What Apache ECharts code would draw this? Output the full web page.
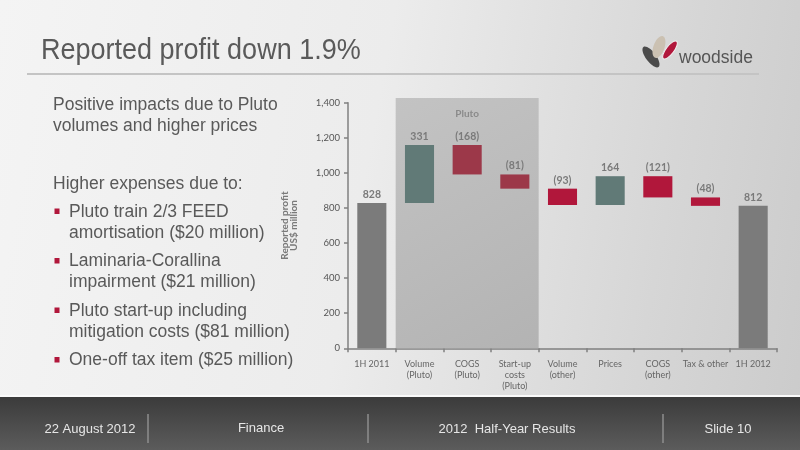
<!DOCTYPE html>
<html>
<head>
<meta charset="utf-8">
<script src="https://cdn.jsdelivr.net/npm/echarts@6/dist/echarts.min.js"></script>
<style>
  html, body { margin: 0; padding: 0; }
  #slide {
    width: 800px; height: 450px;
    background: linear-gradient(100deg, #f4f4f4 0%, #ececec 45%, #d6d6d6 80%, #cbcbcb 100%);
  }
</style>
</head>
<body>
<div id="slide"></div>
<script>
// waterfall data (US$ million)
const categories = ['1H 2011', 'Volume\n(Pluto)', 'COGS\n(Pluto)', 'Start-up\ncosts\n(Pluto)',
  'Volume\n(other)', 'Prices', 'COGS\n(other)', 'Tax & other', '1H 2012'];
const changes = [828, 331, -168, -81, -93, 164, -121, -48, 812];
const kinds = ['total', 'up', 'down', 'down', 'down', 'up', 'down', 'down', 'total'];
const yTicks = [0, 200, 400, 600, 800, 1000, 1200, 1400];
// shaded Pluto group: first category, last category, top of the shading (value)
const plutoGroup = [1, 3, 1427];

const introLines = ['Positive impacts due to Pluto', 'volumes and higher prices'];
const bulletHead = 'Higher expenses due to:';
const bullets = [
  ['Pluto train 2/3 FEED', 'amortisation ($20 million)'],
  ['Laminaria-Corallina', 'impairment ($21 million)'],
  ['Pluto start-up including', 'mitigation costs ($81 million)'],
  ['One-off tax item ($25 million)']
];
const footer = ['22 August 2012', 'Finance', '2012  Half-Year Results', 'Slide 10'];

const colors = {
  total: '#7b7b7b',
  up: '#617a77',
  downPluto: '#9c3849',
  down: '#b1173b',
  text: '#595959'
};

// stack: invisible base + visible step
const base = [];
const steps = [];
let running = 0;
changes.forEach((v, i) => {
  const k = kinds[i];
  let color;
  if (k === 'total') {
    base.push(0);
    steps.push(v);
    running = v;
    color = colors.total;
  } else if (k === 'up') {
    base.push(running);
    steps.push(v);
    running += v;
    color = colors.up;
  } else {
    running += v;
    base.push(running);
    steps.push(-v);
    const inPluto = i >= plutoGroup[0] && i <= plutoGroup[1];
    color = inPluto ? colors.downPluto : colors.down;
  }
  steps[i] = { value: steps[i], itemStyle: { color: color }, raw: v };
});

const chart = echarts.init(document.getElementById('slide'));

const graphic = [];
// title + rule
graphic.push({
  type: 'text', x: 41, y: 51, scaleX: 0.9,
  style: { text: 'Reported profit down 1.9%', font: '30px "Liberation Sans"', fill: '#5a5a5a',
    textAlign: 'left', textVerticalAlign: 'middle' }
});
graphic.push({
  type: 'line', shape: { x1: 27, y1: 74, x2: 759, y2: 74 },
  style: { stroke: '#c4c4c4', lineWidth: 2 }
});
// logo
graphic.push({ type: 'ellipse', x: 651, y: 57, rotation: 0.65, shape: { cx: 0, cy: 0, rx: 5, ry: 12.5 },
  style: { fill: '#4b4b4b' } });
graphic.push({ type: 'ellipse', x: 659, y: 47, rotation: -0.35, shape: { cx: 0, cy: 0, rx: 5.5, ry: 11.5 },
  style: { fill: '#cbc1b2' } });
graphic.push({ type: 'ellipse', x: 670, y: 50, rotation: -0.65, shape: { cx: 0, cy: 0, rx: 4, ry: 11 },
  style: { fill: '#b1173b', stroke: '#f0f0f0', lineWidth: 1 } });
graphic.push({
  type: 'text', x: 679, y: 58,
  style: { text: 'woodside', font: '17.5px "Liberation Sans"', fill: '#555555', textVerticalAlign: 'middle' }
});

// left column text
const bodyFont = '17.5px "Liberation Sans"';
introLines.forEach((t, i) => {
  graphic.push({ type: 'text', x: 53, y: 105 + i * 21,
    style: { text: t, font: bodyFont, fill: colors.text, textVerticalAlign: 'middle' } });
});
graphic.push({ type: 'text', x: 53, y: 184,
  style: { text: bulletHead, font: bodyFont, fill: colors.text, textVerticalAlign: 'middle' } });
let by = 212;
bullets.forEach((lines) => {
  graphic.push({ type: 'rect', shape: { x: 54.5, y: by - 3.5, width: 5, height: 5.5 },
    style: { fill: '#b1173b' } });
  lines.forEach((t, j) => {
    graphic.push({ type: 'text', x: 69, y: by + j * 21,
      style: { text: t, font: bodyFont, fill: colors.text, textVerticalAlign: 'middle' } });
  });
  by += lines.length * 21 + 7.5;
});

// footer bar
graphic.push({ type: 'rect', shape: { x: 0, y: 395, width: 800, height: 2 }, style: { fill: '#fafafa' } });
graphic.push({
  type: 'rect', shape: { x: 0, y: 397, width: 800, height: 53 },
  style: { fill: { type: 'linear', x: 0, y: 0, x2: 0, y2: 1,
    colorStops: [{ offset: 0, color: '#3b3b3b' }, { offset: 1, color: '#5c5c5c' }] } }
});
[148, 368, 663].forEach((x) => {
  graphic.push({ type: 'line', shape: { x1: x, y1: 414, x2: x, y2: 443 },
    style: { stroke: '#8e8e8e', lineWidth: 1.5 } });
});
const footerX = [90, 261, 507, 728];
const footerY = [429, 428, 429, 429];
footer.forEach((t, i) => {
  graphic.push({ type: 'text', x: footerX[i], y: footerY[i],
    style: { text: t, font: '13px "Liberation Sans"', fill: '#e6e6e6',
      textAlign: 'center', textVerticalAlign: 'middle' } });
});

const option = {
  animation: false,
  textStyle: { fontFamily: 'Lato' },
  graphic: graphic,
  grid: { left: 348, right: 23, top: 102.7, bottom: 101.7, containLabel: false },
  xAxis: {
    type: 'category',
    data: categories,
    axisLine: { lineStyle: { color: '#808080', width: 1.5 } },
    axisTick: { show: true, length: 4, lineStyle: { color: '#808080', width: 1.5 } },
    axisLabel: { color: '#666666', fontSize: 9, lineHeight: 11, margin: 10, interval: 0 }
  },
  yAxis: {
    type: 'value',
    min: yTicks[0],
    max: yTicks[yTicks.length - 1],
    interval: yTicks[1] - yTicks[0],
    name: 'Reported profit\nUS$ million',
    nameLocation: 'middle',
    nameGap: 50,
    nameRotate: 90,
    nameTextStyle: { color: '#7a7a7a', fontSize: 10, fontWeight: 'bold', lineHeight: 9 },
    splitLine: { show: false },
    axisLine: { show: true, lineStyle: { color: '#808080', width: 1.5 } },
    axisTick: { show: true, length: 4, lineStyle: { color: '#808080', width: 1.5 } },
    axisLabel: {
      color: '#555555', fontSize: 9.5, margin: 8,
      formatter: (v) => v.toLocaleString('en-US')
    }
  },
  series: [
    {
      type: 'custom',
      z: 1,
      silent: true,
      clip: false,
      data: [plutoGroup],
      renderItem: (params, api) => {
        const band = api.size([1, 0])[0];
        const p0 = api.coord([api.value(0), api.value(2)]);
        const p1 = api.coord([api.value(1), 0]);
        const x = p0[0] - band / 2;
        const w = p1[0] - p0[0] + band;
        return {
          type: 'group',
          children: [
            {
              type: 'rect',
              shape: { x: x, y: p0[1], width: w, height: p1[1] - p0[1] },
              style: { fill: { type: 'linear', x: 0, y: 0, x2: 1, y2: 1,
                colorStops: [{ offset: 0, color: '#c3c3c3' }, { offset: 1, color: '#b3b3b3' }] } }
            },
            {
              type: 'text', x: x + w / 2, y: p0[1] + 16,
              style: { text: 'Pluto', fill: '#8a8a8a', font: 'bold 10px Lato',
                textAlign: 'center', textVerticalAlign: 'middle' }
            }
          ]
        };
      }
    },
    {
      type: 'bar',
      stack: 'fall',
      z: 3,
      silent: true,
      itemStyle: { color: 'transparent' },
      barCategoryGap: '39%',
      data: base
    },
    {
      type: 'bar',
      stack: 'fall',
      z: 3,
      barCategoryGap: '39%',
      data: steps,
      label: {
        show: true,
        position: 'top',
        distance: 3,
        color: '#7a7a7a',
        fontSize: 10.5,
        fontWeight: 'bold',
        formatter: (p) => {
          const v = p.data.raw;
          return v < 0 ? '(' + (-v) + ')' : String(v);
        }
      }
    }
  ]
};

chart.setOption(option);
</script>
</body>
</html>
